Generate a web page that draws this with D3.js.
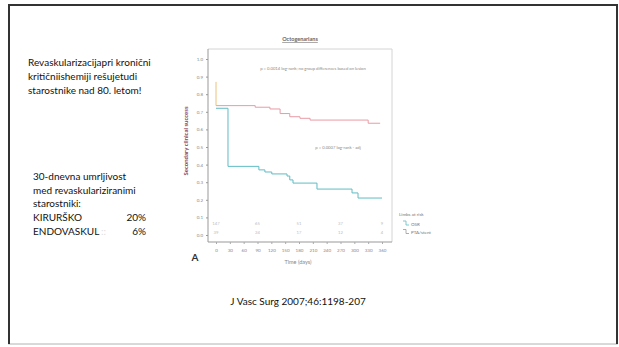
<!DOCTYPE html>
<html>
<head>
<meta charset="utf-8">
<script src="https://cdn.jsdelivr.net/npm/d3@7"></script>
<style>
  body { margin: 0; background: #fff; }
  svg text { font-family: Lato, "Open Sans", sans-serif; }
</style>
</head>
<body>
<svg id="slide" width="619" height="347"></svg>
<script>
// slide text
const introLines = ["Revaskularizacijapri kronični", "kritičniishemiji rešujetudi", "starostnike nad 80. letom!"];
const mortalityLines = ["30-dnevna umrljivost", "med revaskulariziranimi", "starostniki:"];
const mortalityGroups = ["KIRURŠKO", "ENDOVASKUL"];
const mortalityValues = ["20%", "6%"];
const citation = "J Vasc Surg 2007;46:1198-207";

// Kaplan-Meier curves (time in days, secondary clinical success)
const surgeryTime = [0, 0, 85, 117, 139, 160, 182, 204, 330, 356];
const surgerySurv = [0.87, 0.735, 0.726, 0.716, 0.69, 0.672, 0.663, 0.653, 0.635, 0.635];
const endoTime = [0, 26, 93, 106, 121, 154, 160, 167, 219, 295, 308, 360];
const endoSurv = [0.72, 0.39, 0.37, 0.358, 0.347, 0.335, 0.313, 0.295, 0.261, 0.239, 0.21, 0.21];

// axes
const xTicks = [0, 30, 60, 90, 120, 150, 180, 210, 240, 270, 300, 330, 360];
const yTicks = [0, 0.1, 0.2, 0.3, 0.4, 0.5, 0.6, 0.7, 0.8, 0.9, 1.0];

// numbers at risk
const riskDays = [0, 90, 180, 270, 360];
const riskRow1 = ["147", "65", "51", "37", "9"];
const riskRow2 = ["39", "24", "17", "12", "4"];
const legendLabels = ["OSR", "PTA/stent"];

const svg = d3.select("#slide");

// slide frame
svg.append("rect").attr("x", 9).attr("y", 5).attr("width", 608).attr("height", 339)
  .attr("fill", "#fff").attr("stroke", "#ccc").attr("stroke-width", 1.5);
svg.append("path").attr("d", "M9,344V5H617V344")
  .attr("fill", "none").attr("stroke", "#333").attr("stroke-width", 2);

// left text blocks
svg.append("g").selectAll("text").data(introLines).join("text")
  .attr("x", 28).attr("y", (d, i) => 66 + i * 14)
  .attr("font-size", 10).attr("fill", "#111").text(d => d);

svg.append("g").selectAll("text").data(mortalityLines).join("text")
  .attr("x", 33).attr("y", (d, i) => 180 + i * 13.7)
  .attr("font-size", 10).attr("fill", "#111").text(d => d);

const mort = svg.append("g");
mort.selectAll("text.grp").data(mortalityGroups).join("text").attr("class", "grp")
  .attr("x", 33).attr("y", (d, i) => 221 + i * 13.7)
  .attr("font-size", 10).attr("fill", "#111").text(d => d);
mort.selectAll("text.val").data(mortalityValues).join("text").attr("class", "val")
  .attr("x", 146).attr("y", (d, i) => 221 + i * 13.7).attr("text-anchor", "end")
  .attr("font-size", 10).attr("fill", "#111").text(d => d);
// faint leftover glyphs after ENDOVASKUL
mort.append("text").attr("x", 101).attr("y", 234.7)
  .attr("font-size", 10).attr("fill", "#ddd").text("::");

svg.append("text").attr("x", 298).attr("y", 305).attr("text-anchor", "middle")
  .attr("font-size", 10).attr("fill", "#111").text(citation);

// chart
const x = d3.scaleLinear().domain([0, 360]).range([216, 382]);
const y = d3.scaleLinear().domain([0, 1]).range([235, 59]);
const frame = {left: 208, right: 392, top: 49, bottom: 242};

svg.append("path")
  .attr("d", `M${frame.left},${frame.top}H${frame.right}V${frame.bottom}`)
  .attr("fill", "none").attr("stroke", "#d4d4d4").attr("stroke-width", 1);

svg.append("g")
  .attr("transform", `translate(${frame.left},0)`)
  .call(d3.axisLeft(y).tickValues(yTicks).tickFormat(d3.format(".1f")).tickSize(2).tickPadding(3))
  .call(g => g.select(".domain").attr("d", `M0,${frame.top}V${frame.bottom}`).attr("stroke", "#999"))
  .call(g => g.selectAll("line").attr("stroke", "#999"))
  .call(g => g.selectAll("text").attr("font-size", 4.5).attr("fill", "#888"));

svg.append("g")
  .attr("transform", `translate(0,${frame.bottom})`)
  .call(d3.axisBottom(x).tickValues(xTicks).tickSize(2).tickPadding(5))
  .call(g => g.select(".domain").attr("d", `M${frame.left},0H${frame.right}`).attr("stroke", "#999"))
  .call(g => g.selectAll("line").attr("stroke", "#aaa"))
  .call(g => g.selectAll("text").attr("font-size", 4.5).attr("fill", "#888"));

svg.append("text").attr("x", 300).attr("y", 41).attr("text-anchor", "middle")
  .attr("font-size", 5.5).attr("font-weight", "bold").attr("fill", "#666")
  .attr("text-decoration", "underline").text("Octogenarians");

svg.append("text").attr("transform", "translate(188,141) rotate(-90)")
  .attr("text-anchor", "middle").attr("font-size", 6).attr("font-weight", "bold")
  .attr("fill", "#8a4458").text("Secondary clinical success");

svg.append("text").attr("x", 298).attr("y", 264).attr("text-anchor", "middle")
  .attr("font-size", 5.5).attr("fill", "#888").text("Time (days)");

svg.append("text").attr("x", 195).attr("y", 261).attr("text-anchor", "middle")
  .attr("font-size", 10).attr("font-weight", "bold").attr("fill", "#333").text("A");

svg.append("text").attr("x", 313).attr("y", 70).attr("text-anchor", "middle")
  .attr("font-size", 4.2).attr("fill", "#888")
  .text("p = 0.0014 log-rank; no group differences based on lesion");
svg.append("text").attr("x", 338).attr("y", 149).attr("text-anchor", "middle")
  .attr("font-size", 4.2).attr("fill", "#888").text("p = 0.0007 log-rank - adj");

const line = d3.line().curve(d3.curveStepAfter)
  .x(d => x(d[0])).y(d => y(d[1]));

const surgery = d3.zip(surgeryTime, surgerySurv);
const endo = d3.zip(endoTime, endoSurv);

svg.append("path").datum(surgery.slice(1))
  .attr("d", line).attr("fill", "none").attr("stroke", "#e99aa4").attr("stroke-width", 1);
svg.append("path").datum(surgery.slice(0, 2))
  .attr("d", line).attr("fill", "none").attr("stroke", "#eec27a").attr("stroke-width", 1);
svg.append("path").datum(endo)
  .attr("d", line).attr("fill", "none").attr("stroke", "#5fbcc4").attr("stroke-width", 1);

// numbers at risk
const risk = svg.append("g").attr("font-size", 4.2).attr("fill", "#bbb").attr("text-anchor", "middle");
risk.selectAll("text.r1").data(riskRow1).join("text").attr("class", "r1")
  .attr("x", (d, i) => x(riskDays[i])).attr("y", y(0.065) + 1.5).text(d => d);
risk.selectAll("text.r2").data(riskRow2).join("text").attr("class", "r2")
  .attr("x", (d, i) => x(riskDays[i])).attr("y", y(0.015) + 1.5).text(d => d);

// legend
const legend = svg.append("g").attr("font-size", 4.5).attr("fill", "#777");
legend.append("text").attr("x", 399).attr("y", 216).text("Limbs at risk");
const legendColors = ["#5fbcc4", "#999"];
legendLabels.forEach((label, i) => {
  const ly = 224 + i * 8.5;
  legend.append("path").attr("d", `M403,${ly - 3}H406V${ly + 1}H409`)
    .attr("fill", "none").attr("stroke", legendColors[i]).attr("stroke-width", 0.8);
  legend.append("text").attr("x", 411).attr("y", ly + 1.5).text(label);
});
</script>
</body>
</html>
